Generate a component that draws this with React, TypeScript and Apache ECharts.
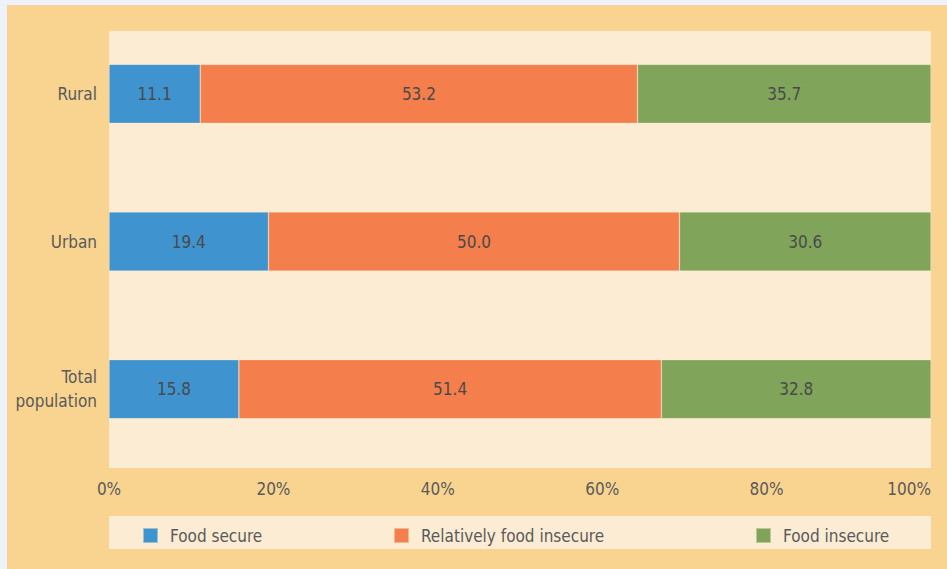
import React, { useEffect, useRef } from "react";
import * as echarts from "echarts";

const categories = ["Total\npopulation", "Urban", "Rural"];
const foodSecure = [15.8, 19.4, 11.1];
const relativelyInsecure = [51.4, 50.0, 53.2];
const foodInsecure = [32.8, 30.6, 35.7];
const seriesNames = ["Food secure", "Relatively food insecure", "Food insecure"];
const colors = ["#3f93cf", "#f47e4c", "#7fa45a"];
const FONT = "'DejaVu Sans Condensed', 'Liberation Sans Narrow', sans-serif";
const FS = 17;

export default function App() {
  const ref = useRef<HTMLDivElement>(null);
  useEffect(() => {
    if (!ref.current) return;
    const chart = echarts.init(ref.current, null, { renderer: "svg" });
    const values = [foodSecure, relativelyInsecure, foodInsecure];
    const legendLefts = [137, 388, 750];
    chart.setOption({
      animation: false,
      backgroundColor: "#eef3fb",
      graphic: [
        { type: "rect", z: -10, shape: { x: 7, y: 5, width: 940, height: 564 }, style: { fill: "#f8d490" }, silent: true },
        { type: "rect", z: -9, shape: { x: 109, y: 31, width: 822, height: 437 }, style: { fill: "#fcecd3" }, silent: true },
        { type: "rect", z: -9, shape: { x: 109, y: 516, width: 822, height: 33 }, style: { fill: "#fcecd3" }, silent: true },
      ],
      grid: { left: 109, right: 16, top: 20, bottom: 106, containLabel: false, outerBoundsMode: "none" },
      xAxis: {
        type: "value",
        min: 0,
        max: 100,
        interval: 20,
        axisLine: { show: false },
        axisTick: { show: false },
        splitLine: { show: false },
        axisLabel: {
          formatter: "{value}%",
          margin: 17,
          color: "#5a5a5a",
          fontFamily: FONT,
          fontSize: FS,
          alignMaxLabel: "right",
        },
      },
      yAxis: {
        type: "category",
        data: categories,
        axisLine: { show: false },
        axisTick: { show: false },
        axisLabel: {
          margin: 12,
          color: "#5a5a5a",
          fontFamily: FONT,
          fontSize: FS,
          lineHeight: 24,
          align: "right",
        },
      },
      legend: seriesNames.map((n, i) => ({
        data: [n],
        left: legendLefts[i],
        top: 522,
        icon: "rect",
        itemWidth: 15,
        itemHeight: 15,
        textStyle: { color: "#5a5a5a", fontFamily: FONT, fontSize: FS, padding: [0, 0, 0, 7] },
      })),
      series: seriesNames.map((n, i) => ({
        name: n,
        type: "bar",
        stack: "total",
        barWidth: 59,
        data: values[i],
        itemStyle: { color: colors[i], borderColor: "rgba(252,236,211,0.5)", borderWidth: 0.6 },
        label: {
          show: true,
          position: "inside",
          formatter: (p: any) => Number(p.value).toFixed(1),
          color: "#4a4a4a",
          fontFamily: FONT,
          fontSize: FS,
        },
      })),
    });
    return () => chart.dispose();
  }, []);
  return (
    <div
      ref={ref}
      style={{ position: "fixed", left: 0, top: 0, width: 947, height: 569 }}
    />
  );
}
